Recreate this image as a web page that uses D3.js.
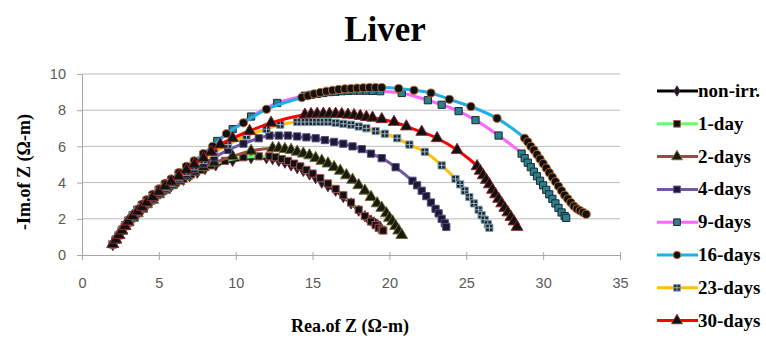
<!DOCTYPE html>
<html lang="en">
	<head>
		<meta charset="utf-8">
		<title>Liver</title>
		<script src="https://d3js.org/d3.v7.min.js" charset="utf-8"></script>
		<style type="text/css">
			body { margin: 0; background: #fff; }
			.serif { font-family: "Liberation Serif", "Times New Roman", serif; font-weight: bold; }
			.tick text { font-family: "Liberation Sans", Arial, sans-serif; font-size: 14.5px; fill: #595959; }
		</style>
	</head>
	<body>
		<script type="text/javascript">

		var seriesNames = ["non-irr.", "1-day", "2-days", "4-days", "9-days", "16-days", "23-days", "30-days"];

		var xTicks = [0, 5, 10, 15, 20, 25, 30, 35];
		var yTicks = [0, 2, 4, 6, 8, 10];

		var nonIrr = [[2.0,0.55],[2.1,0.7],[2.3,0.95],[2.5,1.2],[2.7,1.45],[2.9,1.7],[3.1,1.9],[3.3,2.1],[3.5,2.3],[3.8,2.55],[4.1,2.8],[4.4,3.0],[4.7,3.2],[5.0,3.4],[5.4,3.6],[5.8,3.8],[6.2,4.0],[6.6,4.15],[7.0,4.35],[7.5,4.55],[8.0,4.75],[8.7,4.95],[9.8,5.2],[11.0,5.35],[12.0,5.35],[12.4,5.3],[12.8,5.2],[13.2,5.1],[13.6,4.95],[14.0,4.8],[14.4,4.65],[14.8,4.45],[15.2,4.25],[15.6,4.0],[16.0,3.8],[16.5,3.55],[17.0,3.2],[17.5,2.85],[18.0,2.45],[18.4,2.15],[18.6,2.0],[18.8,1.9],[19.0,1.8],[19.1,1.72],[19.2,1.65],[19.3,1.6],[19.4,1.55]];
		var day1 = [[2.0,0.6],[2.2,0.85],[2.4,1.1],[2.6,1.35],[2.8,1.6],[3.0,1.8],[3.2,2.0],[3.5,2.25],[3.8,2.5],[4.1,2.75],[4.5,3.0],[4.9,3.3],[5.3,3.55],[5.7,3.8],[6.1,4.0],[6.6,4.2],[7.1,4.45],[7.7,4.7],[8.4,4.95],[9.3,5.2],[10.5,5.4],[11.5,5.45],[12.2,5.45],[12.6,5.4],[13.0,5.3],[13.4,5.2],[13.8,5.05],[14.2,4.9],[14.6,4.7],[15.0,4.5],[15.5,4.25],[16.0,3.95],[16.5,3.65],[17.0,3.3],[17.5,2.9],[18.0,2.5],[18.4,2.15],[18.8,1.85],[19.1,1.65],[19.3,1.5],[19.5,1.4],[19.6,1.35]];
		var days2 = [[2.0,0.6],[2.2,0.85],[2.4,1.1],[2.6,1.35],[2.8,1.6],[3.0,1.8],[3.3,2.05],[3.6,2.3],[3.9,2.55],[4.2,2.8],[4.6,3.05],[5.0,3.35],[5.4,3.6],[5.8,3.85],[6.3,4.1],[6.8,4.35],[7.3,4.6],[7.9,4.85],[8.6,5.1],[9.8,5.45],[11.0,5.75],[12.4,5.9],[12.8,5.9],[13.2,5.85],[13.6,5.8],[14.0,5.7],[14.4,5.6],[14.8,5.5],[15.2,5.35],[15.6,5.2],[16.0,5.05],[16.4,4.85],[16.8,4.65],[17.2,4.4],[17.6,4.15],[18.0,3.85],[18.4,3.55],[18.8,3.2],[19.2,2.85],[19.5,2.6],[19.8,2.3],[20.0,2.05],[20.2,1.85],[20.4,1.6],[20.6,1.35],[20.8,1.1]];
		var days4 = [[2.0,0.6],[2.2,0.85],[2.4,1.1],[2.6,1.35],[2.8,1.6],[3.0,1.8],[3.3,2.1],[3.6,2.35],[3.9,2.6],[4.2,2.85],[4.6,3.1],[5.0,3.4],[5.4,3.65],[5.8,3.9],[6.3,4.2],[6.8,4.45],[7.3,4.75],[7.9,5.05],[8.6,5.4],[9.5,5.8],[10.5,6.15],[11.5,6.45],[12.2,6.6],[12.8,6.6],[13.4,6.6],[14.0,6.55],[14.6,6.5],[15.2,6.45],[15.8,6.35],[16.4,6.25],[17.0,6.15],[17.6,6.0],[18.2,5.85],[18.8,5.6],[19.5,5.35],[20.4,4.85],[21.5,4.1],[21.8,3.85],[22.1,3.55],[22.4,3.25],[22.7,2.9],[23.0,2.55],[23.2,2.3],[23.4,2.0],[23.6,1.75],[23.7,1.55]];
		var days9 = [[2.0,0.6],[2.2,0.85],[2.4,1.1],[2.6,1.4],[2.8,1.65],[3.0,1.9],[3.3,2.2],[3.6,2.5],[3.9,2.75],[4.2,3.0],[4.6,3.3],[5.0,3.6],[5.4,3.9],[5.8,4.15],[6.3,4.5],[6.8,4.85],[7.3,5.15],[7.9,5.55],[8.8,6.3],[9.8,6.95],[11.0,7.65],[12.7,8.4],[14.5,8.8],[14.9,8.85],[15.3,8.9],[15.7,8.95],[16.1,9.0],[16.5,9.02],[16.9,9.05],[17.3,9.07],[17.7,9.08],[18.1,9.08],[18.5,9.08],[18.9,9.07],[19.4,9.05],[20.8,8.95],[22.5,8.55],[23.4,8.3],[24.5,7.95],[25.6,7.45],[27.1,6.6],[28.6,5.6],[28.8,5.35],[29.0,5.1],[29.2,4.85],[29.4,4.6],[29.6,4.35],[29.8,4.1],[30.0,3.85],[30.2,3.6],[30.4,3.35],[30.6,3.1],[30.8,2.85],[31.0,2.6],[31.2,2.35],[31.4,2.15],[31.5,2.05]];
		var days16 = [[2.0,0.6],[2.2,0.85],[2.4,1.15],[2.6,1.4],[2.8,1.65],[3.0,1.9],[3.3,2.2],[3.6,2.5],[3.9,2.8],[4.2,3.05],[4.6,3.35],[5.0,3.65],[5.4,3.95],[5.8,4.2],[6.3,4.55],[6.8,4.9],[7.3,5.2],[7.9,5.6],[8.5,6.0],[9.4,6.7],[10.5,7.3],[12.0,8.05],[14.3,8.7],[14.7,8.8],[15.1,8.9],[15.5,8.98],[15.9,9.05],[16.3,9.1],[16.7,9.15],[17.1,9.18],[17.5,9.2],[17.9,9.22],[18.3,9.24],[18.7,9.25],[19.1,9.25],[19.5,9.25],[20.6,9.2],[21.6,9.1],[22.7,8.95],[23.9,8.6],[25.3,8.2],[27.0,7.55],[28.8,6.45],[29.0,6.25],[29.2,6.0],[29.4,5.8],[29.6,5.55],[29.8,5.3],[30.0,5.05],[30.2,4.8],[30.4,4.55],[30.6,4.3],[30.8,4.05],[31.0,3.8],[31.2,3.55],[31.4,3.3],[31.6,3.1],[31.8,2.9],[32.0,2.7],[32.2,2.55],[32.4,2.45],[32.6,2.35],[32.8,2.25]];
		var days23 = [[2.0,0.6],[2.2,0.85],[2.4,1.1],[2.6,1.35],[2.8,1.6],[3.0,1.85],[3.3,2.15],[3.6,2.4],[3.9,2.65],[4.2,2.9],[4.6,3.2],[5.0,3.5],[5.4,3.75],[5.8,4.0],[6.3,4.3],[6.8,4.6],[7.3,4.9],[7.9,5.25],[8.6,5.65],[9.5,6.1],[10.7,6.6],[12.0,6.95],[12.9,7.2],[14.0,7.35],[14.5,7.35],[15.0,7.35],[15.5,7.35],[16.0,7.35],[16.5,7.3],[17.0,7.25],[17.5,7.2],[18.0,7.1],[18.5,7.0],[19.1,6.85],[19.7,6.7],[20.5,6.45],[21.3,6.1],[22.3,5.7],[23.4,4.95],[24.3,4.2],[24.6,3.9],[24.9,3.55],[25.2,3.2],[25.5,2.85],[25.8,2.5],[26.0,2.2],[26.2,1.95],[26.4,1.7],[26.5,1.5]];
		var days30 = [[2.0,0.6],[2.2,0.85],[2.4,1.1],[2.6,1.35],[2.8,1.6],[3.0,1.85],[3.3,2.15],[3.6,2.4],[3.9,2.65],[4.2,2.9],[4.6,3.2],[5.0,3.5],[5.4,3.8],[5.8,4.05],[6.3,4.35],[6.8,4.7],[7.3,5.0],[7.9,5.35],[8.4,5.7],[9.0,6.1],[9.8,6.45],[10.9,6.85],[12.3,7.3],[14.5,7.75],[14.9,7.78],[15.3,7.8],[15.7,7.8],[16.1,7.8],[16.5,7.8],[16.9,7.78],[17.3,7.75],[17.7,7.72],[18.1,7.68],[18.5,7.62],[18.9,7.58],[19.5,7.5],[20.3,7.35],[21.1,7.1],[22.1,6.8],[23.1,6.45],[24.4,5.8],[25.7,4.9],[25.9,4.65],[26.1,4.4],[26.3,4.15],[26.5,3.9],[26.7,3.6],[26.9,3.35],[27.1,3.1],[27.3,2.85],[27.5,2.6],[27.7,2.35],[27.9,2.1],[28.1,1.85],[28.3,1.55]];

		var allData = [nonIrr, day1, days2, days4, days9, days16, days23, days30];

		var lineColors = ["#000000", "#66ff66", "#9b4a48", "#7158a6", "#ff66ff", "#1cb0e8", "#ffc000", "#ff0000"];
		var markerShapes = ["diamond", "square", "triangle", "square", "square", "circle", "squarecross", "triangle"];
		var markerFills = ["#0d1a33", "#111111", "#1a1a10", "#1a1a30", "#2e7f8c", "#111111", "#1a2430", "#111111"];
		var markerStrokes = ["#6b2a2a", "#a85050", "#6c6c30", "#5a4a88", "#1a2a33", "#b8692e", "#7f9fb0", "#8a2a2a"];

		var w = 766;
		var h = 338;

		var svg = d3.select("body")
					.append("svg")
					.attr("width", w)
					.attr("height", h);

		svg.append("rect").attr("width", w).attr("height", h).attr("fill", "#fff");

		var x = d3.scaleLinear().domain([0, 35]).range([82, 620]);
		var y = d3.scaleLinear().domain([0, 10]).range([255, 74]);

		// gridlines
		svg.selectAll("line.grid")
		   .data(yTicks.filter(function(d) { return d > 0; }))
		   .enter()
		   .append("line")
		   .attr("class", "grid")
		   .attr("x1", x(0))
		   .attr("x2", x(35))
		   .attr("y1", function(d) { return y(d); })
		   .attr("y2", function(d) { return y(d); })
		   .attr("stroke", "#bdbdbd")
		   .attr("stroke-width", 1);

		var xAxis = svg.append("g")
			.attr("transform", "translate(0," + y(0) + ")")
			.call(d3.axisBottom(x).tickValues(xTicks).tickSize(5).tickPadding(18));
		xAxis.select(".domain").attr("stroke", "#a6a6a6");
		xAxis.selectAll(".tick line").attr("stroke", "#a6a6a6").attr("y1", -3);

		var yAxis = svg.append("g")
			.attr("transform", "translate(" + x(0) + ",0)")
			.call(d3.axisLeft(y).tickValues(yTicks).tickSize(5).tickPadding(11));
		yAxis.select(".domain").attr("stroke", "#a6a6a6");
		yAxis.selectAll(".tick line").attr("stroke", "#a6a6a6");

		var line = d3.line()
			.x(function(d) { return x(d[0]); })
			.y(function(d) { return y(d[1]); })
			.curve(d3.curveCatmullRom.alpha(0.5));

		function symbolFor(shape, size) {
			if (shape == "diamond") return d3.symbol().type(d3.symbolDiamond).size(size * 0.7)();
			if (shape == "triangle") return d3.symbol().type(d3.symbolTriangle).size(size * 1.15)();
			if (shape == "circle") return d3.symbol().type(d3.symbolCircle).size(size)();
			return d3.symbol().type(d3.symbolSquare).size(size)();
		}

		function drawMarker(g, i, size) {
			var s = markerShapes[i];
			g.append("path")
			 .attr("d", symbolFor(s, size))
			 .attr("fill", markerFills[i])
			 .attr("stroke", markerStrokes[i])
			 .attr("stroke-width", 1);
			if (s == "squarecross") {
				g.append("path")
				 .attr("d", "M-3,0H3M0,-3V3")
				 .attr("stroke", "#9fb8c8")
				 .attr("stroke-width", 1);
			}
		}

		allData.forEach(function(series, i) {
			var g = svg.append("g");
			g.append("path")
			 .datum(series)
			 .attr("d", line)
			 .attr("fill", "none")
			 .attr("stroke", lineColors[i])
			 .attr("stroke-width", 3);
			g.selectAll("g.m")
			 .data(series)
			 .enter()
			 .append("g")
			 .attr("class", "m")
			 .attr("transform", function(d) { return "translate(" + x(d[0]) + "," + y(d[1]) + ")"; })
			 .each(function() { drawMarker(d3.select(this), i, 52); });
		});

		// title
		svg.append("text")
		   .attr("class", "serif")
		   .attr("x", 385)
		   .attr("y", 41)
		   .attr("text-anchor", "middle")
		   .attr("font-size", 35)
		   .text("Liver");

		// axis titles
		svg.append("text")
		   .attr("class", "serif")
		   .attr("transform", "translate(30,172) rotate(-90)")
		   .attr("text-anchor", "middle")
		   .attr("font-size", 18)
		   .text("-Im.of  Z (Ω-m)");

		svg.append("text")
		   .attr("class", "serif")
		   .attr("x", 350)
		   .attr("y", 332)
		   .attr("text-anchor", "middle")
		   .attr("font-size", 18)
		   .text("Rea.of Z (Ω-m)");

		// legend
		var legend = svg.selectAll("g.legend")
			.data(seriesNames)
			.enter()
			.append("g")
			.attr("class", "legend")
			.attr("transform", function(d, i) { return "translate(657," + (91 + i * 32.8) + ")"; });

		legend.append("line")
			.attr("x1", 0)
			.attr("x2", 41)
			.attr("stroke", function(d, i) { return lineColors[i]; })
			.attr("stroke-width", 3);

		legend.append("g")
			.attr("transform", "translate(20,0)")
			.each(function(d, i) { drawMarker(d3.select(this), i, 44); });

		legend.append("text")
			.attr("class", "serif")
			.attr("x", 41)
			.attr("y", 6)
			.attr("font-size", 19)
			.text(function(d) { return d; });

		</script>
	</body>
</html>
